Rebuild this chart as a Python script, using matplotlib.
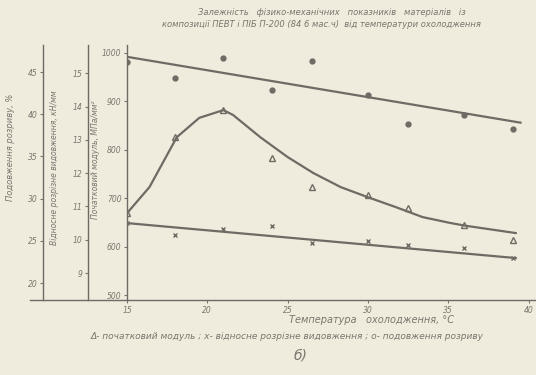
import matplotlib.pyplot as plt
from matplotlib.lines import Line2D

# temperatures of the measured points, deg C
temps = [15, 18, 21, 24, 26.5, 30, 32.5, 36, 39]

# o - elongation at break, %
elong = [46.2, 44.3, 46.7, 42.9, 46.3, 42.3, 38.8, 39.9, 38.2]
elong_line_t = [15, 39.5]
elong_line_v = [46.8, 39.0]

# triangle - initial modulus
modulus = [669, 826, 882, 783, 723, 707, 680, 645, 614]
mod_curve_t = [15.0, 16.4, 18.1, 19.5, 21.0, 21.6, 23.3, 25.0, 26.6, 28.3,
               30.0, 31.7, 33.4, 35.1, 36.1, 39.2]
mod_curve_v = [669, 723, 826, 866, 882, 872, 826, 785, 752, 723,
               702, 682, 661, 649, 643, 628]

# x - relative strength
strength = [10.5, 10.14, 10.32, 10.41, 9.9, 9.96, 9.84, 9.75, 9.45]
str_line_t = [15, 39.2]
str_line_v = [10.5, 9.45]

x_ticks = [15, 20, 25, 30, 35, 40]
mod_ticks = [500, 600, 700, 800, 900, 1000]
str_ticks = [9, 10, 11, 12, 13, 14, 15]
elong_ticks = [20, 25, 30, 35, 40, 45]

BG = "#efebdd"
INK = "#6f6b64"
TXT = "#7a766e"

plt.rcParams["font.family"] = ["DejaVu Sans"]
plt.rcParams["font.style"] = "italic"

fig = plt.figure(figsize=(5.36, 3.75), dpi=100, facecolor=BG)
ax = fig.add_axes([127 / 536, 0.2, 408 / 536, 0.68])
ax.set_facecolor(BG)

ax.plot(mod_curve_t, mod_curve_v, color=INK, lw=1.6)
ax.plot(temps, modulus, ls="none", marker="^", ms=4.5, mfc="none", mec=INK, mew=1.0)
ax.set_xlim(15, 40.4)
ax.set_ylim(489.7, 1016.5)
ax.set_xticks(x_ticks)
ax.set_yticks(mod_ticks)
for s in ["top", "right"]:
    ax.spines[s].set_visible(False)

# middle axis - strength
ax2 = ax.twinx()
ax2.plot(str_line_t, str_line_v, color=INK, lw=1.6)
ax2.plot(temps, strength, ls="none", marker="x", ms=3.5, mec=INK, mew=1.0)
ax2.set_ylim(8.19, 15.85)
ax2.set_yticks(str_ticks)
ax2.yaxis.set_ticks_position("left")
ax2.yaxis.set_label_position("left")
ax2.spines["left"].set_position(("outward", 28))
ax2.spines["left"].set_visible(True)
for s in ["top", "right", "bottom"]:
    ax2.spines[s].set_visible(False)

# leftmost axis - elongation
ax3 = ax.twinx()
ax3.plot(elong_line_t, elong_line_v, color=INK, lw=1.6)
ax3.plot(temps, elong, ls="none", marker="o", ms=3.5, mfc=INK, mec=INK)
ax3.set_ylim(17.99, 48.2)
ax3.set_yticks(elong_ticks)
ax3.yaxis.set_ticks_position("left")
ax3.yaxis.set_label_position("left")
ax3.spines["left"].set_position(("outward", 60.5))
ax3.spines["left"].set_visible(True)
for s in ["top", "right", "bottom"]:
    ax3.spines[s].set_visible(False)

for a in (ax, ax2, ax3):
    for s in a.spines.values():
        s.set_color(INK)
        s.set_linewidth(1.0)
    a.tick_params(colors=TXT, labelsize=5.5, length=2.5, width=0.8, pad=1.5)

ax.set_ylabel("Початковий модуль, МПа/мм²", fontsize=5.5, color=TXT)
ax.yaxis.set_label_coords(-0.066, 0.55)
ax2.set_ylabel("Відносне розрізне видовження, кН/мм", fontsize=5.5, color=TXT)
ax2.yaxis.set_label_coords(-0.166, 0.52)
ax3.set_ylabel("Подовження розриву, %", fontsize=6, color=TXT)
ax3.yaxis.set_label_coords(-0.275, 0.6)

# baseline runs on under the extra axes
fig.add_artist(Line2D([30 / 536, 127 / 536], [0.2, 0.2], color=INK, lw=1.0))

ax.set_xlabel("Температура   охолодження, °С", fontsize=7, color=TXT)
ax.xaxis.set_label_coords(0.6, -0.06)

fig.text(0.62, 0.966, "Залежність   фізико-механічних   показників   матеріалів   із",
         ha="center", va="center", fontsize=6, color=TXT)
fig.text(0.6, 0.934, "композиції ПЕВТ і ПІБ П-200 (84 6 мас.ч)  від температури охолодження",
         ha="center", va="center", fontsize=6, color=TXT)
fig.text(0.535, 0.103,
         "Δ- початковий модуль ; х- відносне розрізне видовження ; о- подовження розриву",
         ha="center", va="center", fontsize=6.5, color=TXT)
fig.text(0.56, 0.052, "б)", ha="center", va="center", fontsize=10, color=TXT)

fig.savefig("out.png", dpi=100, facecolor=BG)
